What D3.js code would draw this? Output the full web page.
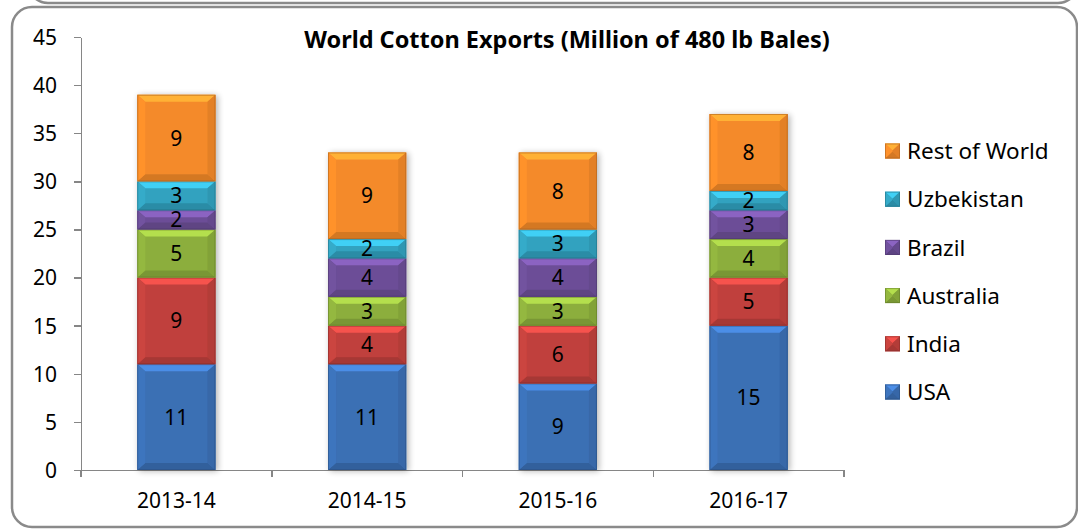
<!DOCTYPE html>
<html>
<head>
  <style>
  body { margin: 0; background: #fff; font-family: "Noto Sans", "Open Sans", sans-serif; }
  .axis text { font-size: 21px; fill: #000; font-family: "Noto Sans", sans-serif; }
  .axis path, .axis line { stroke: #868686; stroke-width: 1.5; shape-rendering: crispedges; }
  .seg-label { font-size: 21px; fill: #000; text-anchor: middle; }
  .legend text { font-size: 22.5px; fill: #000; }
  </style>
  <script src="https://d3js.org/d3.v7.min.js"></script>
</head>
<body>
<div id="container"></div>
<script>
var seasons = ["2013-14", "2014-15", "2015-16", "2016-17"]
var series = ["USA", "India", "Australia", "Brazil", "Uzbekistan", "Rest of World"]
var usa = [11, 11, 9, 15]
var india = [9, 4, 6, 5]
var australia = [5, 3, 3, 4]
var brazil = [2, 4, 4, 3]
var uzbekistan = [3, 2, 3, 2]
var restOfWorld = [9, 9, 8, 8]
var yTicks = [0, 5, 10, 15, 20, 25, 30, 35, 40, 45]

var colors = ["#3b6fb4", "#c0403c", "#8cae3c", "#6c4e97", "#32a2bf", "#f48a2a"]

var values = [usa, india, australia, brazil, uzbekistan, restOfWorld]
var rows = seasons.map(function(s, i) {
  var r = { season: s }
  series.forEach(function(k, j) { r[k] = values[j][i] })
  return r
})
var stack = d3.stack().keys(series)(rows)

var W = 1078, H = 529
var margin = { left: 81, top: 37, right: W - 844, bottom: H - 470 }

var svg = d3.select("#container").append("svg")
    .attr("width", W)
    .attr("height", H)

var defs = svg.append("defs")
var shadow = defs.append("filter").attr("id", "shadow")
  .attr("x", "-20%").attr("y", "-5%").attr("width", "150%").attr("height", "110%")
shadow.append("feGaussianBlur").attr("in", "SourceAlpha").attr("stdDeviation", 3)
shadow.append("feOffset").attr("dx", 2).attr("dy", 1).attr("result", "b")
shadow.append("feComponentTransfer").append("feFuncA").attr("type", "linear").attr("slope", 0.3)
var merge = shadow.append("feMerge")
merge.append("feMergeNode")
merge.append("feMergeNode").attr("in", "SourceGraphic")

// previous chart's border peeking in at the top
svg.append("rect")
  .attr("x", 28).attr("y", -520).attr("width", 1050).attr("height", 523).attr("rx", 20)
  .attr("fill", "none").attr("stroke", "#8a8a8a").attr("stroke-width", 2.5)

svg.append("rect")
  .attr("x", 12).attr("y", 7).attr("width", 1065).attr("height", 520).attr("rx", 20)
  .attr("fill", "#fff").attr("stroke", "#8a8a8a").attr("stroke-width", 2.5)

var x = d3.scaleBand()
  .domain(seasons)
  .range([margin.left, W - margin.right])
  .paddingInner(0.59).paddingOuter(0.295)

var xCat = d3.scaleBand().domain(seasons).range([margin.left, W - margin.right])

var y = d3.scaleLinear().domain([0, 45]).range([H - margin.bottom, margin.top])

svg.append("text")
  .attr("x", 567).attr("y", 48)
  .attr("text-anchor", "middle")
  .style("font-size", "23.5px").style("font-weight", "bold")
  .text("World Cotton Exports (Million of 480 lb Bales)")

var yax = svg.append("g").attr("class", "axis")
  .attr("transform", "translate(" + margin.left + ",0)")
  .call(d3.axisLeft(y).tickValues(yTicks).tickSize(7).tickPadding(17).tickSizeOuter(0))
yax.selectAll("text").attr("dy", "0.35em")

var xax = svg.append("g").attr("class", "axis")
  .attr("transform", "translate(0," + y(0) + ")")
  .call(d3.axisBottom(xCat).tickSize(0).tickSizeOuter(0).tickPadding(23))
xax.selectAll(".tick line").remove()
xCat.domain().concat(["end"]).forEach(function(d, i) {
  var px = margin.left + i * xCat.bandwidth()
  xax.append("line").attr("x1", px).attr("x2", px).attr("y1", 0).attr("y2", 7)
})

function bevel(g, x0, y0, w, h, c) {
  var bx = Math.min(8, w / 2), by = Math.min(7, h / 2)
  var base = d3.color(c)
  g.append("rect").attr("x", x0).attr("y", y0).attr("width", w).attr("height", h)
    .attr("fill", base)
  var faces = [
    { p: [[x0, y0], [x0 + w, y0], [x0 + w - bx, y0 + by], [x0 + bx, y0 + by]], f: base.brighter(0.7) },
    { p: [[x0, y0 + h], [x0 + w, y0 + h], [x0 + w - bx, y0 + h - by], [x0 + bx, y0 + h - by]], f: base.darker(0.4) },
    { p: [[x0, y0], [x0 + bx, y0 + by], [x0 + bx, y0 + h - by], [x0, y0 + h]], f: base.brighter(0.15) },
    { p: [[x0 + w, y0], [x0 + w - bx, y0 + by], [x0 + w - bx, y0 + h - by], [x0 + w, y0 + h]], f: base.darker(0.2) }
  ]
  faces.forEach(function(fc) {
    g.append("polygon").attr("points", fc.p.map(function(p) { return p.join(",") }).join(" "))
      .attr("fill", fc.f)
  })
  g.append("rect").attr("x", x0 + 0.5).attr("y", y0 + 0.5).attr("width", w - 1).attr("height", h - 1)
    .attr("fill", "none").attr("stroke", base.darker(0.9)).attr("stroke-opacity", 0.6).attr("stroke-width", 1)
}

var bars = svg.append("g")
seasons.forEach(function(s, i) {
  var g = bars.append("g").attr("filter", "url(#shadow)")
  stack.forEach(function(layer, k) {
    var d = layer[i]
    bevel(g, x(s), y(d[1]), x.bandwidth(), y(d[0]) - y(d[1]), colors[k])
  })
})

stack.forEach(function(layer, k) {
  layer.forEach(function(d, i) {
    bars.append("text").attr("class", "seg-label")
      .attr("x", x(seasons[i]) + x.bandwidth() / 2)
      .attr("y", (y(d[0]) + y(d[1])) / 2)
      .attr("dy", "0.36em")
      .text(d[1] - d[0])
  })
})

var legend = svg.append("g").attr("class", "legend")
  .attr("transform", "translate(885,151)")
series.slice().reverse().forEach(function(name, i) {
  var c = colors[series.length - 1 - i]
  var g = legend.append("g").attr("transform", "translate(0," + (i * 48.2) + ")")
  bevel(g, 0, -7.5, 15, 15, c)
  g.append("text").attr("x", 22).attr("y", 0).attr("dy", "0.36em").text(name)
})
</script>
</body>
</html>
